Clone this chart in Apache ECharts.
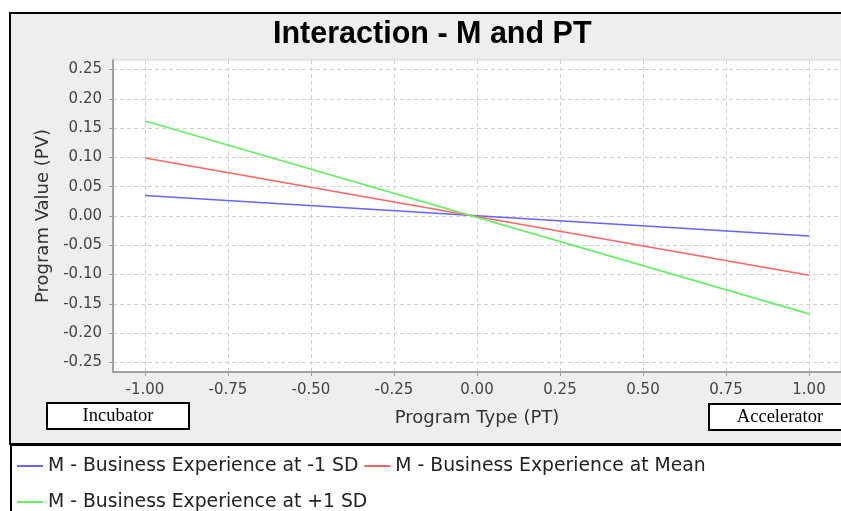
<!DOCTYPE html>
<html>
<head>
<meta charset="utf-8">
<script src="https://cdn.jsdelivr.net/npm/echarts@6/dist/echarts.min.js"></script>
<style>
  html, body { margin: 0; padding: 0; background: #ffffff; }
  #chart { width: 841px; height: 511px; }
</style>
</head>
<body>
<div id="chart"></div>
<script>
// Program Type (PT) at its two coded levels
const programType = [-1, 1];
// Predicted Program Value (PV) for each level of business experience (M)
const atMinusOneSD = [0.035, -0.034];
const atMean = [0.099, -0.101];
const atPlusOneSD = [0.162, -0.167];

const seriesNames = [
  'M - Business Experience at -1 SD',
  'M - Business Experience at Mean',
  'M - Business Experience at +1 SD'
];
const seriesColors = ['#6464ff', '#ff6464', '#64f064'];

const xTicks = [-1.00, -0.75, -0.50, -0.25, 0.00, 0.25, 0.50, 0.75, 1.00];
const yTicks = [-0.25, -0.20, -0.15, -0.10, -0.05, 0.00, 0.05, 0.10, 0.15, 0.20, 0.25];

const endLabels = ['Incubator', 'Accelerator'];

const sans = 'DejaVu Sans';

function pairs(ys) {
  return programType.map((x, i) => [x, ys[i]]);
}

const chart = echarts.init(document.getElementById('chart'), null, { renderer: 'canvas' });

const lineSeries = [atMinusOneSD, atMean, atPlusOneSD].map((ys, i) => ({
  name: seriesNames[i],
  type: 'line',
  data: pairs(ys),
  showSymbol: false,
  symbol: 'none',
  silent: true,
  animation: false,
  lineStyle: { color: seriesColors[i], width: 1.6 },
  itemStyle: { color: seriesColors[i] },
  z: 3
}));

chart.setOption({
  animation: false,
  backgroundColor: '#ffffff',
  title: {
    text: 'Interaction - M and PT',
    left: 273,
    top: 19,
    padding: 0,
    textStyle: {
      fontFamily: 'Liberation Sans',
      fontWeight: 'bold',
      fontSize: 30.5,
      color: '#000000'
    }
  },
  graphic: [
    {
      type: 'rect', z: -10, silent: true,
      shape: { x: 10, y: 13, width: 860, height: 431 },
      style: { fill: '#eeeeee', stroke: '#000000', lineWidth: 2 }
    },
    {
      type: 'rect', z: -9, silent: true,
      shape: { x: 11, y: 445, width: 860, height: 80 },
      style: { fill: '#ffffff', stroke: '#000000', lineWidth: 2 }
    },
    {
      type: 'group', z: 10,
      children: [
        {
          type: 'rect',
          shape: { x: 47, y: 403, width: 142, height: 26 },
          style: { fill: '#ffffff', stroke: '#000000', lineWidth: 2 }
        },
        {
          type: 'text',
          style: {
            x: 118, y: 416, text: endLabels[0],
            align: 'center', verticalAlign: 'middle',
            font: '18.5px "Liberation Serif"', fill: '#000000'
          }
        },
        {
          type: 'rect',
          shape: { x: 709, y: 404, width: 142, height: 26 },
          style: { fill: '#ffffff', stroke: '#000000', lineWidth: 2 }
        },
        {
          type: 'text',
          style: {
            x: 780, y: 417, text: endLabels[1],
            align: 'center', verticalAlign: 'middle',
            font: '18.5px "Liberation Serif"', fill: '#000000'
          }
        }
      ]
    }
  ],
  legend: {
    data: seriesNames,
    left: 17,
    top: 451,
    width: 740,
    padding: 0,
    itemGap: 6,
    itemWidth: 26,
    itemHeight: 2,
    icon: 'rect',
    selectedMode: false,
    textStyle: {
      fontFamily: sans,
      fontSize: 18.8,
      color: '#222222',
      lineHeight: 30
    }
  },
  grid: {
    left: 113,
    top: 60,
    width: 728,
    height: 312,
    show: true,
    backgroundColor: '#ffffff',
    borderColor: '#d4d4d4',
    borderWidth: 1,
    containLabel: false
  },
  xAxis: {
    type: 'value',
    min: -1.0964,
    max: 1.0964,
    name: 'Program Type (PT)',
    nameLocation: 'middle',
    nameGap: 37,
    nameTextStyle: { fontFamily: sans, fontSize: 18, color: '#333333' },
    axisLine: { show: true, onZero: false, lineStyle: { color: '#a0a0a0', width: 2 } },
    axisTick: { show: true, length: 4, inside: false, customValues: xTicks, lineStyle: { color: '#a0a0a0' } },
    axisLabel: {
      customValues: xTicks,
      margin: 11,
      fontFamily: sans,
      fontSize: 15,
      color: '#444444',
      formatter: v => v.toFixed(2)
    },
    splitLine: { show: true, lineStyle: { color: '#d0d0d0', type: [4, 3], width: 1 } }
  },
  yAxis: {
    type: 'value',
    min: -0.2662,
    max: 0.2662,
    name: 'Program Value (PV)',
    nameLocation: 'middle',
    nameGap: 60,
    nameRotate: 90,
    nameTextStyle: { fontFamily: sans, fontSize: 18, color: '#333333' },
    axisLine: { show: true, onZero: false, lineStyle: { color: '#a0a0a0', width: 2 } },
    axisTick: { show: true, length: 4, inside: false, customValues: yTicks, lineStyle: { color: '#a0a0a0' } },
    axisLabel: {
      customValues: yTicks,
      margin: 11,
      fontFamily: sans,
      fontSize: 15,
      color: '#444444',
      formatter: v => v.toFixed(2)
    },
    splitLine: { show: true, lineStyle: { color: '#d0d0d0', type: [4, 3], width: 1 } }
  },
  series: lineSeries
});
</script>
</body>
</html>
